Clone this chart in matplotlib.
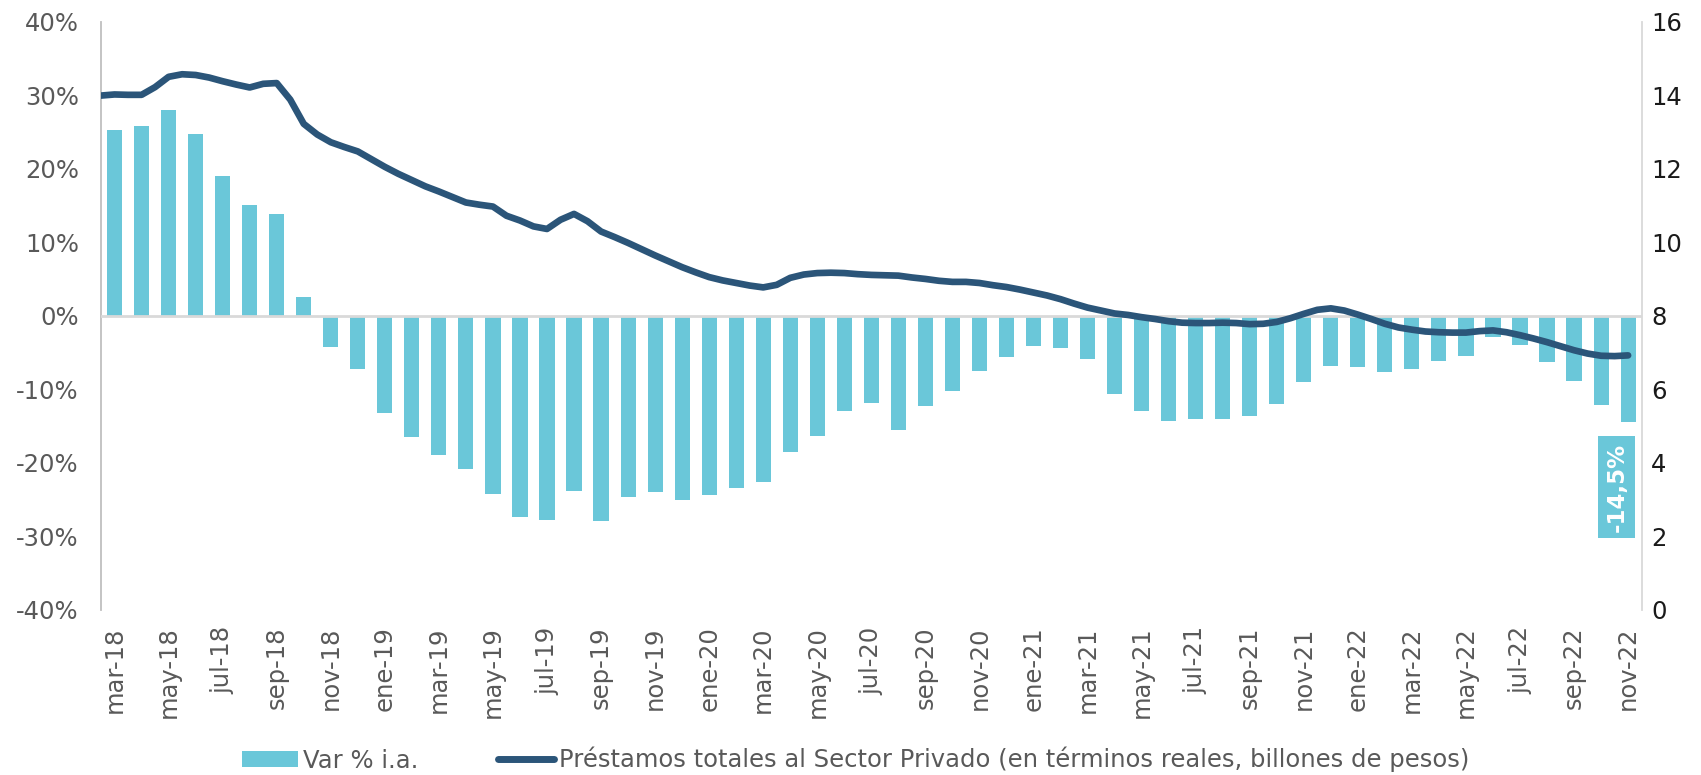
import numpy as np
import matplotlib
matplotlib.use("Agg")
import matplotlib.pyplot as plt
from matplotlib.lines import Line2D
from matplotlib.patches import Patch

# --- data ---
MESES = ["ene", "feb", "mar", "abr", "may", "jun",
         "jul", "ago", "sep", "oct", "nov", "dic"]

# Var % i.a. (monthly, mar-18 .. nov-22)
var_ia = [25.2, 25.8, 28.0, 24.7, 19.0, 15.0, 13.9, 2.5, -4.2, -7.3,
          -13.2, -16.5, -18.9, -20.8, -24.2, -27.4, -27.8, -23.9, -28.0, -24.6,
          -24.0, -25.1, -24.4, -23.5, -22.6, -18.5, -16.4, -13.0, -11.9, -15.5,
          -12.3, -10.2, -7.5, -5.6, -4.1, -4.4, -5.9, -10.7, -13.0, -14.3,
          -14.1, -14.0, -13.7, -12.0, -9.0, -6.8, -7.0, -7.7, -7.2, -6.2,
          -5.5, -2.9, -4.0, -6.3, -8.9, -12.1, -14.5]

# Prestamos totales (billones de pesos), sampled every half month,
# starting half a month before mar-18
prestamos = [13.99, 14.02, 14.01, 14.01, 14.22, 14.50, 14.57, 14.55, 14.48, 14.38,
             14.29, 14.21, 14.31, 14.33, 13.88, 13.22, 12.93, 12.72, 12.59, 12.47,
             12.26, 12.05, 11.86, 11.69, 11.52, 11.38, 11.23, 11.08, 11.02, 10.97,
             10.72, 10.59, 10.43, 10.36, 10.61, 10.77, 10.57, 10.29, 10.14, 9.98,
             9.81, 9.64, 9.48, 9.32, 9.18, 9.05, 8.96, 8.89, 8.82, 8.77,
             8.84, 9.03, 9.12, 9.16, 9.17, 9.16, 9.13, 9.11, 9.10, 9.09,
             9.04, 9.00, 8.95, 8.92, 8.92, 8.89, 8.83, 8.78, 8.71, 8.63,
             8.55, 8.45, 8.33, 8.22, 8.14, 8.06, 8.02, 7.96, 7.91, 7.85,
             7.81, 7.80, 7.80, 7.81, 7.80, 7.77, 7.78, 7.83, 7.93, 8.05,
             8.16, 8.20, 8.14, 8.03, 7.91, 7.78, 7.68, 7.62, 7.57, 7.55,
             7.54, 7.54, 7.58, 7.60, 7.55, 7.47, 7.38, 7.28, 7.17, 7.06,
             6.97, 6.91, 6.90, 6.92]

ultimo_label = "-14,5%"

BAR_COLOR = "#6AC7D9"
LINE_COLOR = "#2B5579"
GRAY_TXT = "#595959"

n = len(var_ia)
labels = [f"{MESES[(2 + i) % 12]}-{18 + (2 + i) // 12}" for i in range(n)]
x = np.arange(n)
x_line = -0.5 + 0.5 * np.arange(len(prestamos))

fig = plt.figure(figsize=(17.01, 7.75), dpi=100)
ax = fig.add_axes([0.0594, 0.2133, 0.9057, 0.7587])
ax2 = ax.twinx()

ax.bar(x, var_ia, width=0.56, color=BAR_COLOR, zorder=2)
ax.axhline(0, color="#D9D9D9", lw=2, zorder=3)
ax2.plot(x_line, prestamos, color=LINE_COLOR, lw=4.8,
         solid_capstyle="round", solid_joinstyle="round")

ax.set_xlim(-0.5, n - 0.5)
ax.set_ylim(-40, 40)
ax2.set_ylim(0, 16)

ax.set_yticks(np.arange(-40, 41, 10))
ax.set_yticklabels([f"{v}%" for v in range(-40, 41, 10)])
ax2.set_yticks(np.arange(0, 17, 2))

ax.set_xticks(x[::2])
ax.set_xticklabels(labels[::2], rotation=90, ha="center", va="top")

ax.tick_params(axis="y", length=0, labelsize=17.5, labelcolor=GRAY_TXT, pad=16)
ax.tick_params(axis="x", length=0, labelsize=17.5, labelcolor=GRAY_TXT, pad=12)
ax2.tick_params(axis="y", length=0, labelsize=17.5, labelcolor="#1a1a1a", pad=7)

for a in (ax, ax2):
    a.spines["top"].set_visible(False)
    a.spines["bottom"].set_visible(False)
ax.spines["right"].set_visible(False)
ax.spines["left"].set_color("#BFBFBF")
ax.spines["left"].set_linewidth(1.3)
ax2.spines["left"].set_visible(False)
ax2.spines["right"].set_color("#D9D9D9")
ax2.spines["right"].set_linewidth(1.3)

# label of the last observation
ax.text(n - 1 - 0.42, -23.3, ultimo_label, rotation=90, ha="center", va="center",
        color="white", fontsize=16.5, fontweight="bold", zorder=5,
        bbox=dict(boxstyle="square,pad=0.3", facecolor=BAR_COLOR, edgecolor="none"))

handles = [Patch(facecolor=BAR_COLOR, edgecolor="none"),
           Line2D([], [], color=LINE_COLOR, lw=5, solid_capstyle="round")]
fig.legend(handles,
           ["Var % i.a.",
            "Préstamos totales al Sector Privado (en términos reales, billones de pesos)"],
           loc="lower center", bbox_to_anchor=(0.503, -0.025), ncol=2, frameon=False,
           fontsize=17.5, labelcolor=GRAY_TXT, handlelength=2.3, handleheight=0.6,
           handletextpad=0.2, columnspacing=3.3)

fig.savefig("out.png", dpi=100)
